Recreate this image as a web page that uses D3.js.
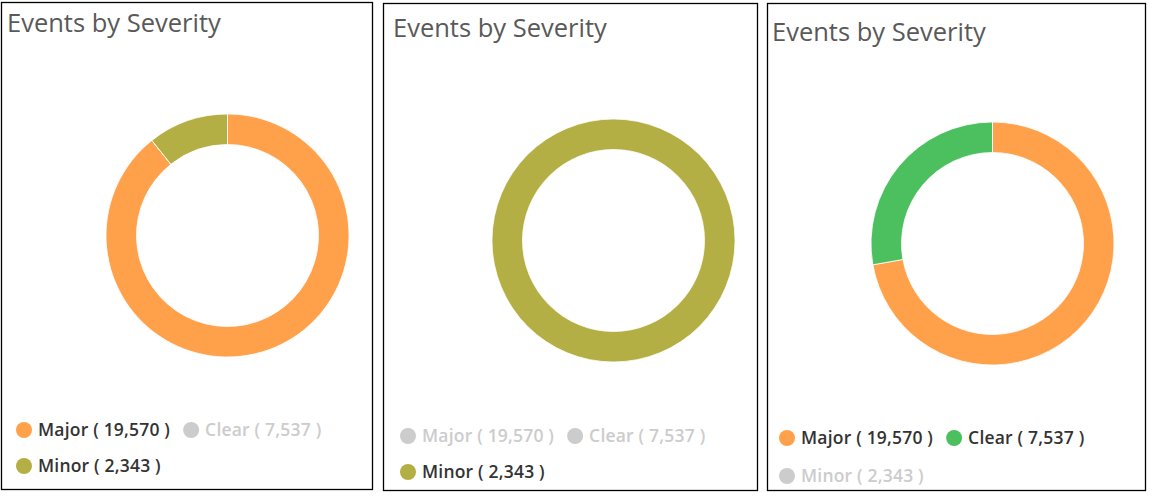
<!DOCTYPE html>
<html>
<head>
<meta charset="utf-8">
<script src="https://cdn.jsdelivr.net/npm/d3@7"></script>
<style>
  html, body { margin: 0; padding: 0; background: #fff; }
  svg { display: block; }
</style>
</head>
<body>
<svg id="chart" width="1154" height="499"></svg>
<script>
// ---- data ----
const title = "Events by Severity";
const categories = ["Major", "Clear", "Minor"];
const counts = [19570, 7537, 2343];
const seriesColors = ["#FFA04A", "#4CBF5F", "#B4AF44"];
const disabledColor = "#CCCCCC";
// which categories are switched on in each of the three panels
const panelEnabled = [
  [true, false, true],
  [false, false, true],
  [true, true, false]
];

// ---- layout (per panel) ----
const panels = [
  { x: 1.5, y: 2.5, w: 371, h: 487, tx: 7, ty: 32, cx: 227.5, cy: 235.5, lx: 24, ly: 430, row: 36 },
  { x: 383.5, y: 3.5, w: 374, h: 487, tx: 393, ty: 37, cx: 613.5, cy: 240.5, lx: 408, ly: 436, row: 36 },
  { x: 767.5, y: 3.5, w: 378, h: 487, tx: 772, ty: 41, cx: 992.5, cy: 243.5, lx: 787, ly: 438, row: 38 }
];
const outerR = 121.5, innerR = 91;

const svg = d3.select("#chart");
const fmt = d3.format(",");
const pie = d3.pie().sort(null).value(d => d.value);
const arc = d3.arc().innerRadius(innerR).outerRadius(outerR);

panels.forEach((p, pi) => {
  const g = svg.append("g");
  g.append("rect")
    .attr("x", p.x).attr("y", p.y).attr("width", p.w).attr("height", p.h)
    .attr("fill", "#fff").attr("stroke", "#000").attr("stroke-width", 1.3);

  g.append("text")
    .attr("x", p.tx).attr("y", p.ty)
    .attr("font-family", "'Open Sans', sans-serif")
    .attr("font-size", 25.5)
    .attr("fill", "#595959")
    .text(title);

  const items = categories.map((c, i) => ({
    name: c, count: counts[i], color: seriesColors[i],
    on: panelEnabled[pi][i],
    value: panelEnabled[pi][i] ? counts[i] : 0
  }));

  const donut = g.append("g").attr("transform", `translate(${p.cx},${p.cy})`);
  donut.selectAll("path").data(pie(items)).join("path")
    .attr("d", arc)
    .attr("fill", d => d.data.color)
    .attr("stroke", "#fff")
    .attr("stroke-width", 0.8);

  // legend, flowing layout
  const maxX = p.x + p.w - 8;
  let x = p.lx, y = p.ly;
  items.forEach((it, i) => {
    const lg = g.append("g");
    const t = lg.append("text")
      .attr("font-family", "'Open Sans', sans-serif")
      .attr("font-weight", 600)
      .attr("font-size", 17.5)
      .attr("letter-spacing", 0.2)
      .attr("fill", it.on ? "#333333" : disabledColor)
      .text(`${it.name} ( ${fmt(it.count)} )`);
    const tw = t.node().getComputedTextLength();
    if (i > 0 && x + 14 + tw > maxX) {
      x = p.lx; y += p.row;
    }
    lg.append("circle").attr("cx", x).attr("cy", y).attr("r", 8)
      .attr("fill", it.on ? it.color : disabledColor);
    t.attr("x", x + 14).attr("y", y + 6);
    x = x + 14 + tw + 21;
  });
});
</script>
</body>
</html>
